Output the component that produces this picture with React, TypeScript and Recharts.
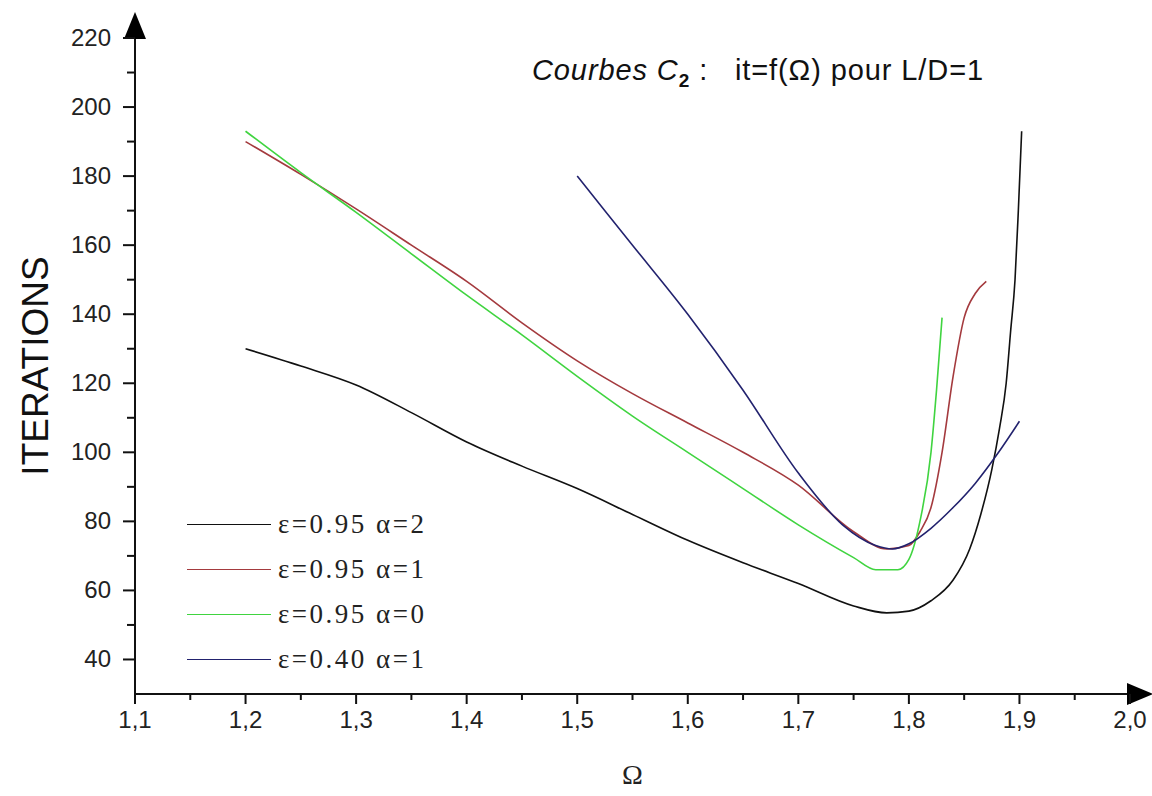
import { LineChart, Line, XAxis, YAxis, Legend, ReferenceDot, Label } from 'recharts';

// values
const omegaA2 = [1.2, 1.25, 1.3, 1.35, 1.4, 1.45, 1.5, 1.55, 1.6, 1.65, 1.7, 1.75, 1.78, 1.8, 1.82, 1.84, 1.855, 1.865, 1.875, 1.882, 1.888, 1.892, 1.896, 1.899, 1.902];
const itA2 = [130, 125, 119.5, 111.5, 103, 96, 89.5, 82, 74.5, 68, 62, 55.5, 53.5, 54, 57, 63, 72, 82, 95, 107, 120, 135, 150, 170, 193];

const omegaA1 = [1.2, 1.25, 1.3, 1.35, 1.4, 1.45, 1.5, 1.55, 1.6, 1.65, 1.7, 1.75, 1.78, 1.8, 1.81, 1.82, 1.83, 1.84, 1.85, 1.86, 1.87];
const itA1 = [190, 180.5, 170.5, 160, 149.5, 137.5, 126.5, 117, 108.5, 100, 90.5, 77, 72, 73, 77, 84, 100, 122, 139, 146, 149.5];

const omegaA0 = [1.2, 1.25, 1.3, 1.35, 1.4, 1.45, 1.5, 1.55, 1.6, 1.65, 1.7, 1.75, 1.77, 1.79, 1.8, 1.81, 1.82, 1.825, 1.83];
const itA0 = [193, 181, 169.5, 157.5, 145.5, 134, 122, 110.5, 100, 89.5, 79, 69.5, 66, 66, 69, 80, 100, 118, 139];

const omegaE40 = [1.5, 1.55, 1.6, 1.65, 1.7, 1.74, 1.77, 1.785, 1.8, 1.82, 1.84, 1.86, 1.88, 1.9];
const itE40 = [180, 160, 140, 118, 94, 79, 73, 72, 73.5, 78, 84, 91, 99.5, 109];

const seriesNames = ['ε=0.95 α=2', 'ε=0.95 α=1', 'ε=0.95 α=0', 'ε=0.40 α=1'];
const seriesColors = ['#111111', '#a43a3e', '#40d440', '#22226e'];

const xTicks = [1.1, 1.15, 1.2, 1.25, 1.3, 1.35, 1.4, 1.45, 1.5, 1.55, 1.6, 1.65, 1.7, 1.75, 1.8, 1.85, 1.9, 1.95, 2.0];
const yTicks = [40, 50, 60, 70, 80, 90, 100, 110, 120, 130, 140, 150, 160, 170, 180, 190, 200, 210, 220];

const toPoints = (xs: number[], ys: number[]) => xs.map((x, i) => ({ x, y: ys[i] }));

const seriesData = [
  toPoints(omegaA2, itA2),
  toPoints(omegaA1, itA1),
  toPoints(omegaA0, itA0),
  toPoints(omegaE40, itE40),
];

const tickFont = "'Liberation Sans', Arial, sans-serif";

const XTick = (props: any) => {
  const { x, y, payload } = props;
  const v = payload.value as number;
  const major = Math.round(v * 100) % 10 === 0;
  return (
    <g>
      <line x1={x} y1={y} x2={x} y2={y + (major ? 10 : 6)} stroke='#111' strokeWidth={2} />
      {major && (
        <text x={x} y={y + 34} textAnchor='middle' fontSize={24} fontFamily={tickFont} fill='#222'>
          {v.toFixed(1).replace('.', ',')}
        </text>
      )}
    </g>
  );
};

const YTick = (props: any) => {
  const { x, y, payload } = props;
  const v = payload.value as number;
  const major = v % 20 === 0;
  return (
    <g>
      <line x1={x - (major ? 12 : 8)} y1={y} x2={x} y2={y} stroke='#111' strokeWidth={2} />
      {major && (
        <text x={x - 24} y={y + 8} textAnchor='end' fontSize={24} fontFamily={tickFont} fill='#222'>
          {v}
        </text>
      )}
    </g>
  );
};

const UpArrow = (props: any) => {
  const { cx, cy } = props;
  return <path d={`M${cx},${cy - 26} L${cx - 11},${cy + 1} L${cx + 11},${cy + 1} Z`} fill='#000' />;
};

const RightArrow = (props: any) => {
  const { cx, cy } = props;
  return <path d={`M${cx + 23},${cy} L${cx - 3},${cy - 11} L${cx - 3},${cy + 11} Z`} fill='#000' />;
};

const renderLegend = (props: any) => {
  const payload = [...(props.payload || [])].sort(
    (a: any, b: any) => seriesNames.indexOf(a.value) - seriesNames.indexOf(b.value)
  );
  return (
    <div>
      {payload.map((entry: any) => (
        <div key={entry.value} style={{ display: 'flex', alignItems: 'center', height: 45 }}>
          <div style={{ width: 84, height: 0, borderTop: `1.5px solid ${entry.color}`, marginRight: 7 }} />
          <span
            style={{
              fontFamily: "'Liberation Serif', 'Times New Roman', serif",
              fontSize: 27,
              color: '#222',
              whiteSpace: 'pre',
              letterSpacing: 2.5,
            }}
          >
            {entry.value}
          </span>
        </div>
      ))}
    </div>
  );
};

export default function App() {
  return (
    <div style={{ position: 'absolute', left: 0, top: 0, width: 1152, height: 796, background: '#fff' }}>
      <div
        style={{
          position: 'absolute',
          left: 532,
          top: 54,
          fontFamily: tickFont,
          fontSize: 29,
          letterSpacing: 0.9,
          color: '#111',
          whiteSpace: 'pre',
          zIndex: 2,
        }}
      >
        <i>Courbes C</i>
        <sub style={{ fontSize: 19, fontWeight: 'bold' }}>2</sub>
        {' :   it=f(Ω) pour L/D=1'}
      </div>
      <LineChart width={1152} height={796} margin={{ top: 38, right: 22, left: 0, bottom: 10 }}>
        <XAxis
          type='number'
          dataKey='x'
          domain={[1.1, 2.0]}
          ticks={xTicks}
          interval={0}
          allowDataOverflow
          height={92}
          tickSize={0}
          tickMargin={0}
          tickLine={false}
          tick={<XTick />}
          axisLine={{ stroke: '#111', strokeWidth: 2 }}
        >
          <Label
            value='Ω'
            position='insideBottom'
            offset={2}
            style={{ fontSize: 28, fontFamily: "'Liberation Serif', serif", fill: '#222' }}
          />
        </XAxis>
        <YAxis
          type='number'
          domain={[30, 220]}
          ticks={yTicks}
          interval={0}
          allowDataOverflow
          width={135}
          tickSize={0}
          tickMargin={0}
          tickLine={false}
          tick={<YTick />}
          axisLine={{ stroke: '#111', strokeWidth: 2 }}
        >
          <Label
            value='ITERATIONS'
            angle={-90}
            position='insideLeft'
            offset={35}
            style={{ fontSize: 37, fontFamily: tickFont, fill: '#111', textAnchor: 'middle' }}
          />
        </YAxis>
        {seriesData.map((d, i) => (
          <Line
            key={seriesNames[i]}
            data={d}
            dataKey='y'
            name={seriesNames[i]}
            type='monotone'
            stroke={seriesColors[i]}
            strokeWidth={1.6}
            dot={false}
            activeDot={false}
            isAnimationActive={false}
          />
        ))}
        <ReferenceDot x={1.1} y={220} r={0} shape={<UpArrow />} ifOverflow='visible' />
        <ReferenceDot x={2.0} y={30} r={0} shape={<RightArrow />} ifOverflow='visible' />
        <Legend
          content={renderLegend}
          layout='vertical'
          verticalAlign='middle'
          align='center'
          wrapperStyle={{ left: 187, top: 502, width: 340 }}
        />
      </LineChart>
    </div>
  );
}
